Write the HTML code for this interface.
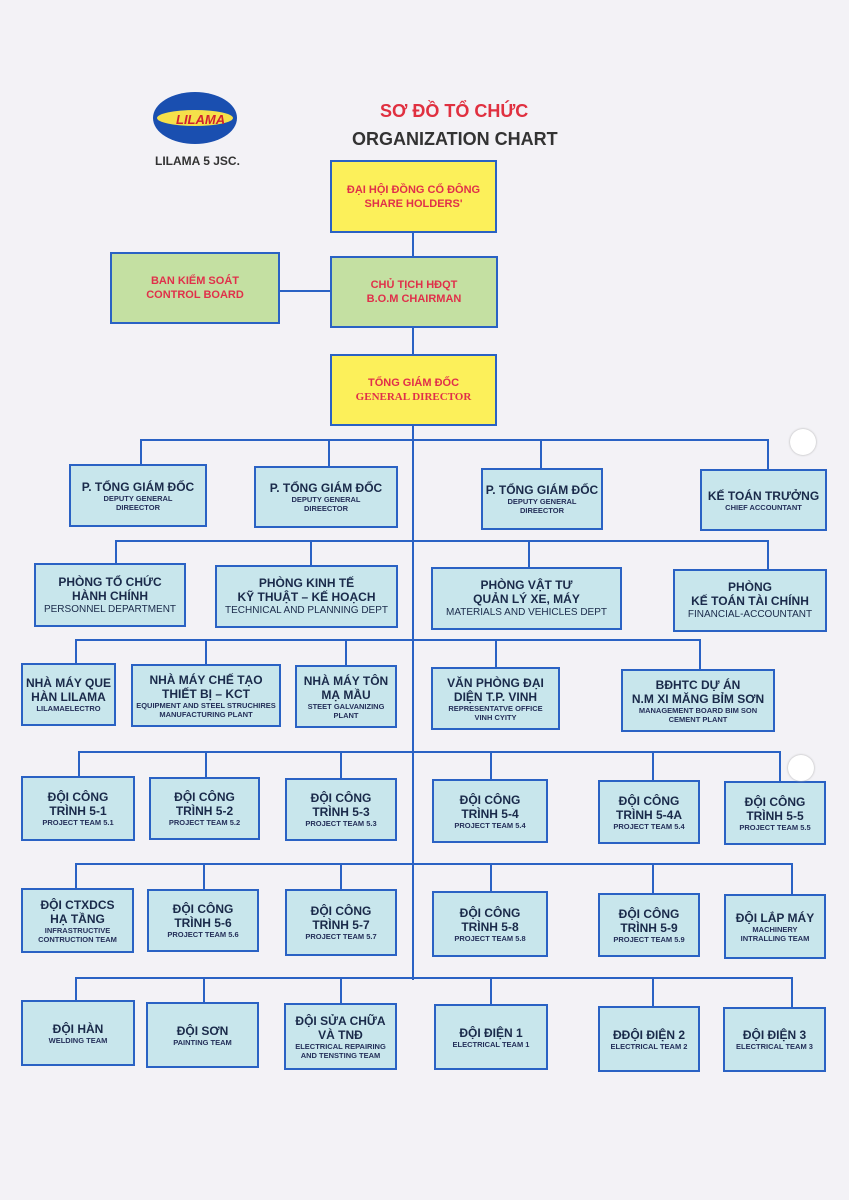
<!DOCTYPE html>
<html><head><meta charset="utf-8"><style>
body{margin:0;width:849px;height:1200px;background:#f3f2f6;position:relative;overflow:hidden;font-family:"Liberation Sans","DejaVu Sans",sans-serif}
.b{position:absolute;box-sizing:border-box;border:2px solid #2a62c4;background:#c8e6ec;display:flex;flex-direction:column;align-items:center;justify-content:center;text-align:center;color:#1a2a4a;font-weight:bold;font-size:12px;line-height:14px}
.b small{font-size:7.5px;line-height:9px;font-weight:bold;color:#25305a}
.b .m{font-size:10px;font-weight:normal;line-height:13px}
.y{background:#fcf05a;color:#e0304a;font-size:11px}
.g{background:#c4e0a2;color:#e0304a;font-size:11px}
.l{position:absolute;background:#2a62c4}
</style></head><body>
<svg style="position:absolute;left:150px;top:88px" width="95" height="62"><ellipse cx="45" cy="30" rx="42" ry="26" fill="#1a4fb0"/><ellipse cx="45" cy="30" rx="38" ry="8" fill="#f5e04a"/><text x="26" y="36" font-family="Liberation Sans" font-weight="bold" font-style="italic" font-size="13" fill="#d02030">LILAMA</text></svg>
<div style="position:absolute;left:155px;top:154px;font-weight:bold;font-size:12px;color:#333">LILAMA 5 JSC.</div>
<div style="position:absolute;left:380px;top:101px;font-weight:bold;font-size:18px;color:#e03040">SƠ ĐỒ TỔ CHỨC</div>
<div style="position:absolute;left:352px;top:129px;font-weight:bold;font-size:18px;color:#333">ORGANIZATION CHART</div>

<div class="l" style="left:412px;top:232px;width:2px;height:748px"></div>
<div class="l" style="left:280px;top:290px;width:50px;height:2px"></div>
<div class="l" style="left:140px;top:439px;width:629px;height:2px"></div>
<div class="l" style="left:115px;top:540px;width:654px;height:2px"></div>
<div class="l" style="left:75px;top:639px;width:626px;height:2px"></div>
<div class="l" style="left:78px;top:751px;width:703px;height:2px"></div>
<div class="l" style="left:75px;top:863px;width:718px;height:2px"></div>
<div class="l" style="left:75px;top:977px;width:718px;height:2px"></div>
<!-- drops -->
<div class="l" style="left:140px;top:439px;width:2px;height:26px"></div>
<div class="l" style="left:328px;top:439px;width:2px;height:27px"></div>
<div class="l" style="left:540px;top:439px;width:2px;height:29px"></div>
<div class="l" style="left:767px;top:439px;width:2px;height:30px"></div>
<div class="l" style="left:115px;top:540px;width:2px;height:23px"></div>
<div class="l" style="left:310px;top:540px;width:2px;height:25px"></div>
<div class="l" style="left:528px;top:540px;width:2px;height:27px"></div>
<div class="l" style="left:767px;top:540px;width:2px;height:29px"></div>
<div class="l" style="left:75px;top:639px;width:2px;height:24px"></div>
<div class="l" style="left:205px;top:639px;width:2px;height:25px"></div>
<div class="l" style="left:345px;top:639px;width:2px;height:26px"></div>
<div class="l" style="left:495px;top:639px;width:2px;height:28px"></div>
<div class="l" style="left:699px;top:639px;width:2px;height:30px"></div>
<div class="l" style="left:78px;top:751px;width:2px;height:25px"></div><div class="l" style="left:205px;top:751px;width:2px;height:26px"></div><div class="l" style="left:340px;top:751px;width:2px;height:27px"></div><div class="l" style="left:490px;top:751px;width:2px;height:28px"></div><div class="l" style="left:652px;top:751px;width:2px;height:29px"></div><div class="l" style="left:779px;top:751px;width:2px;height:30px"></div>
<div class="l" style="left:75px;top:863px;width:2px;height:25px"></div><div class="l" style="left:203px;top:863px;width:2px;height:26px"></div><div class="l" style="left:340px;top:863px;width:2px;height:26px"></div><div class="l" style="left:490px;top:863px;width:2px;height:28px"></div><div class="l" style="left:652px;top:863px;width:2px;height:30px"></div><div class="l" style="left:791px;top:863px;width:2px;height:31px"></div>
<div class="l" style="left:75px;top:977px;width:2px;height:23px"></div><div class="l" style="left:203px;top:977px;width:2px;height:25px"></div><div class="l" style="left:340px;top:977px;width:2px;height:26px"></div><div class="l" style="left:490px;top:977px;width:2px;height:27px"></div><div class="l" style="left:652px;top:977px;width:2px;height:29px"></div><div class="l" style="left:791px;top:977px;width:2px;height:30px"></div>

<div class="b y" style="left:330px;top:160px;width:167px;height:73px">ĐẠI HỘI ĐỒNG CỔ ĐÔNG<br>SHARE HOLDERS'</div>
<div class="b g" style="left:110px;top:252px;width:170px;height:72px">BAN KIỂM SOÁT<br>CONTROL BOARD</div>
<div class="b g" style="left:330px;top:256px;width:168px;height:72px">CHỦ TỊCH HĐQT<br>B.O.M CHAIRMAN</div>
<div class="b y" style="left:330px;top:354px;width:167px;height:72px">TỔNG GIÁM ĐỐC<br><span style="font-family:'Liberation Serif',serif">GENERAL DIRECTOR</span></div>

<div class="b" style="left:69px;top:464px;width:138px;height:63px">P. TỔNG GIÁM ĐỐC<small>DEPUTY GENERAL<br>DIREECTOR</small></div>
<div class="b" style="left:254px;top:466px;width:144px;height:62px">P. TỔNG GIÁM ĐỐC<small>DEPUTY GENERAL<br>DIREECTOR</small></div>
<div class="b" style="left:481px;top:468px;width:122px;height:62px">P. TỔNG GIÁM ĐỐC<small>DEPUTY GENERAL<br>DIREECTOR</small></div>
<div class="b" style="left:700px;top:469px;width:127px;height:62px">KẾ TOÁN TRƯỞNG<small>CHIEF ACCOUNTANT</small></div>

<div class="b" style="left:34px;top:563px;width:152px;height:64px">PHÒNG TỔ CHỨC<br>HÀNH CHÍNH<span class="m">PERSONNEL DEPARTMENT</span></div>
<div class="b" style="left:215px;top:565px;width:183px;height:63px">PHÒNG KINH TẾ<br>KỸ THUẬT – KẾ HOẠCH<span class="m">TECHNICAL AND PLANNING DEPT</span></div>
<div class="b" style="left:431px;top:567px;width:191px;height:63px">PHÒNG VẬT TƯ<br>QUẢN LÝ XE, MÁY<span class="m">MATERIALS AND VEHICLES DEPT</span></div>
<div class="b" style="left:673px;top:569px;width:154px;height:63px">PHÒNG<br>KẾ TOÁN TÀI CHÍNH<span class="m">FINANCIAL-ACCOUNTANT</span></div>

<div class="b" style="left:21px;top:663px;width:95px;height:63px">NHÀ MÁY QUE<br>HÀN LILAMA<small>LILAMAELECTRO</small></div>
<div class="b" style="left:131px;top:664px;width:150px;height:63px">NHÀ MÁY CHẾ TẠO<br>THIẾT BỊ – KCT<small>EQUIPMENT AND STEEL STRUCHIRES<br>MANUFACTURING PLANT</small></div>
<div class="b" style="left:295px;top:665px;width:102px;height:63px">NHÀ MÁY TÔN<br>MẠ MẦU<small>STEET GALVANIZING<br>PLANT</small></div>
<div class="b" style="left:431px;top:667px;width:129px;height:63px">VĂN PHÒNG ĐẠI<br>DIỆN T.P. VINH<small>REPRESENTATVE OFFICE<br>VINH CYITY</small></div>
<div class="b" style="left:621px;top:669px;width:154px;height:63px">BĐHTC DỰ ÁN<br>N.M XI MĂNG BỈM SƠN<small>MANAGEMENT BOARD BIM SON<br>CEMENT PLANT</small></div>

<div class="b" style="left:21px;top:776px;width:114px;height:65px">ĐỘI CÔNG<br>TRÌNH 5-1<small>PROJECT TEAM 5.1</small></div>
<div class="b" style="left:149px;top:777px;width:111px;height:63px">ĐỘI CÔNG<br>TRÌNH 5-2<small>PROJECT TEAM 5.2</small></div>
<div class="b" style="left:285px;top:778px;width:112px;height:63px">ĐỘI CÔNG<br>TRÌNH 5-3<small>PROJECT TEAM 5.3</small></div>
<div class="b" style="left:432px;top:779px;width:116px;height:64px">ĐỘI CÔNG<br>TRÌNH 5-4<small>PROJECT TEAM 5.4</small></div>
<div class="b" style="left:598px;top:780px;width:102px;height:64px">ĐỘI CÔNG<br>TRÌNH 5-4A<small>PROJECT TEAM 5.4</small></div>
<div class="b" style="left:724px;top:781px;width:102px;height:64px">ĐỘI CÔNG<br>TRÌNH 5-5<small>PROJECT TEAM 5.5</small></div>

<div class="b" style="left:21px;top:888px;width:113px;height:65px">ĐỘI CTXDCS<br>HẠ TẦNG<small>INFRASTRUCTIVE<br>CONTRUCTION TEAM</small></div>
<div class="b" style="left:147px;top:889px;width:112px;height:63px">ĐỘI CÔNG<br>TRÌNH 5-6<small>PROJECT TEAM 5.6</small></div>
<div class="b" style="left:285px;top:889px;width:112px;height:67px">ĐỘI CÔNG<br>TRÌNH 5-7<small>PROJECT TEAM 5.7</small></div>
<div class="b" style="left:432px;top:891px;width:116px;height:66px">ĐỘI CÔNG<br>TRÌNH 5-8<small>PROJECT TEAM 5.8</small></div>
<div class="b" style="left:598px;top:893px;width:102px;height:64px">ĐỘI CÔNG<br>TRÌNH 5-9<small>PROJECT TEAM 5.9</small></div>
<div class="b" style="left:724px;top:894px;width:102px;height:65px">ĐỘI LẮP MÁY<small>MACHINERY<br>INTRALLING TEAM</small></div>

<div class="b" style="left:21px;top:1000px;width:114px;height:66px">ĐỘI HÀN<small>WELDING TEAM</small></div>
<div class="b" style="left:146px;top:1002px;width:113px;height:66px">ĐỘI SƠN<small>PAINTING TEAM</small></div>
<div class="b" style="left:284px;top:1003px;width:113px;height:67px">ĐỘI SỬA CHỮA<br>VÀ TNĐ<small>ELECTRICAL REPAIRING<br>AND TENSTING TEAM</small></div>
<div class="b" style="left:434px;top:1004px;width:114px;height:66px">ĐỘI ĐIỆN 1<small>ELECTRICAL TEAM 1</small></div>
<div class="b" style="left:598px;top:1006px;width:102px;height:66px">ĐĐỘI ĐIỆN 2<small>ELECTRICAL TEAM 2</small></div>
<div class="b" style="left:723px;top:1007px;width:103px;height:65px">ĐỘI ĐIỆN 3<small>ELECTRICAL TEAM 3</small></div>

<div style="position:absolute;left:790px;top:429px;width:26px;height:26px;border-radius:50%;background:#fff;box-shadow:0 0 2px #aaa"></div>
<div style="position:absolute;left:788px;top:755px;width:26px;height:26px;border-radius:50%;background:#fff;box-shadow:0 0 2px #aaa"></div>
</body></html>
